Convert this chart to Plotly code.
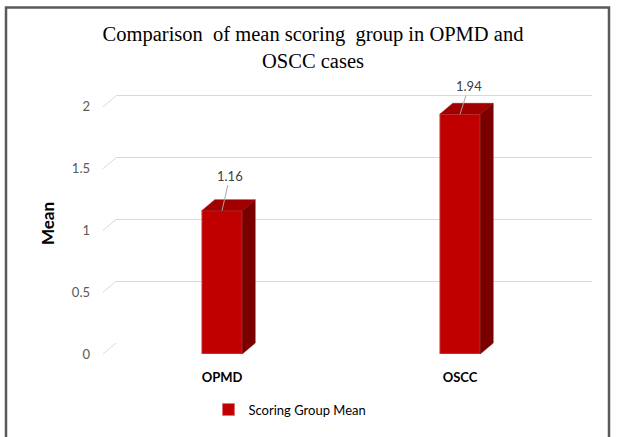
import plotly.graph_objects as go

# ---- data ----
categories = ["OPMD", "OSCC"]
means = [1.16, 1.94]
label_texts = ["1.16", "1.94"]
y_ticks = [0, 0.5, 1, 1.5, 2]
y_tick_labels = ["0", "0.5", "1", "1.5", "2"]
series_name = "Scoring Group Mean"

# ---- style / geometry constants ----
W, H = 617, 437
ML, MR, MT, MB = 103, 25, 82, 81
PW, PH = W - ML - MR, H - MT - MB
DX_PX, DY_PX = 13, 11          # 3-D depth offset in pixels
PX_PER_UNIT_Y = 124.5
x_front_range = [-0.5, 1.5]
front_px_w = PW - DX_PX
px_per_unit_x = front_px_w / (x_front_range[1] - x_front_range[0])
ddx = DX_PX / px_per_unit_x
ddy = DY_PX / PX_PER_UNIT_Y
y_top = (PH - DY_PX) / PX_PER_UNIT_Y
bar_w = 0.17
front_col = "#C00000"
side_col = "#7A0000"
top_col = "#A00000"
grid_col = "#D9D9D9"
label_offsets = [(8, -35), (9, -28)]

xs = list(range(len(categories)))

fig = go.Figure()

# invisible trace so the back-wall subplot (gridlines) is created
fig.add_trace(go.Scatter(x=[None], y=[None], xaxis="x", yaxis="y", showlegend=False,
                         hoverinfo="skip"))

# slanted gridline stubs on the left side (front axes)
sx, sy = [], []
for t in y_ticks:
    sx += [x_front_range[0], x_front_range[0] + ddx, None]
    sy += [t, t + ddy, None]
fig.add_trace(go.Scatter(x=sx, y=sy, mode="lines", line=dict(color=grid_col, width=1),
                         xaxis="x2", yaxis="y2", showlegend=False, hoverinfo="skip"))

# side faces
fx, fy = [], []
for x, v in zip(xs, means):
    r = x + bar_w / 2
    fx += [r, r + ddx, r + ddx, r, r, None]
    fy += [0, ddy, v + ddy, v, 0, None]
fig.add_trace(go.Scatter(x=fx, y=fy, mode="lines", fill="toself", fillcolor=side_col,
                         line=dict(color=side_col, width=0.5), xaxis="x2", yaxis="y2",
                         showlegend=False, hoverinfo="skip"))
# top faces
tx, ty = [], []
for x, v in zip(xs, means):
    l, r = x - bar_w / 2, x + bar_w / 2
    tx += [l, l + ddx, r + ddx, r, l, None]
    ty += [v, v + ddy, v + ddy, v, v, None]
fig.add_trace(go.Scatter(x=tx, y=ty, mode="lines", fill="toself", fillcolor=top_col,
                         line=dict(color=top_col, width=0.5), xaxis="x2", yaxis="y2",
                         showlegend=False, hoverinfo="skip"))

# front faces
fig.add_trace(go.Bar(x=xs, y=means, width=bar_w, name=series_name,
                     marker=dict(color=front_col, line=dict(color="#E07070", width=0.8)),
                     xaxis="x2", yaxis="y2"))

# data labels with leader lines
for x, v, txt, (ax, ay) in zip(xs, means, label_texts, label_offsets):
    fig.add_annotation(x=x, y=v, xref="x2", yref="y2", text=txt, showarrow=True,
                       arrowhead=0, arrowwidth=1, arrowcolor="#A6A6A6", ax=ax, ay=ay,
                       font=dict(family="Lato", size=13, color="#404040"))

def px_to_paper_x(px):
    return (px - ML) / PW

def px_to_paper_y(py):
    return (H - MB - py) / PH

fig.add_shape(type="rect", xref="paper", yref="paper",
              x0=px_to_paper_x(6), x1=px_to_paper_x(609),
              y0=px_to_paper_y(470), y1=px_to_paper_y(7),
              line=dict(color="#5A5A5A", width=2.5), fillcolor="rgba(0,0,0,0)", layer="below")

fig.update_layout(
    width=W, height=H,
    margin=dict(l=ML, r=MR, t=MT, b=MB),
    paper_bgcolor="white", plot_bgcolor="rgba(0,0,0,0)",
    title=dict(text="Comparison  of mean scoring  group in OPMD and<br>OSCC cases",
               x=313 / W, xanchor="center", y=1 - 41 / H, yanchor="top",
               font=dict(family="Liberation Serif", size=20.5, color="black")),
    # back wall (gridlines)
    xaxis=dict(domain=[DX_PX / PW, 1], range=[0, 1], showgrid=False, zeroline=False,
               showticklabels=False, showline=False, anchor="y"),
    yaxis=dict(domain=[DY_PX / PH, 1], range=[0, y_top], tickvals=y_ticks, showgrid=True,
               gridcolor=grid_col, gridwidth=1, zeroline=False, showticklabels=False,
               showline=False, anchor="x"),
    # front plane (bars)
    xaxis2=dict(domain=[0, 1 - DX_PX / PW], range=x_front_range, tickvals=xs,
                ticktext=categories, showgrid=False, zeroline=False, showline=False,
                anchor="y2", ticklabelstandoff=14,
                tickfont=dict(family="Lato", size=13, color="black", weight="bold")),
    yaxis2=dict(domain=[0, 1 - DY_PX / PH], range=[0, y_top], tickvals=y_ticks,
                ticktext=y_tick_labels, showgrid=False, zeroline=False, showline=False,
                anchor="x2", ticklabelstandoff=12,
                tickfont=dict(family="Lato", size=13, color="#595959"),
                title=dict(text="Mean", standoff=12,
                           font=dict(family="Lato", size=17, color="black", weight="bold"))),
    showlegend=True,
    legend=dict(orientation="h", x=px_to_paper_x(290), xanchor="center",
                y=px_to_paper_y(412), yanchor="middle",
                font=dict(family="Lato", size=13, color="black")),
)

fig.write_html("out.html", config={"displayModeBar": False},
               post_script="document.body.style.margin='0';")
